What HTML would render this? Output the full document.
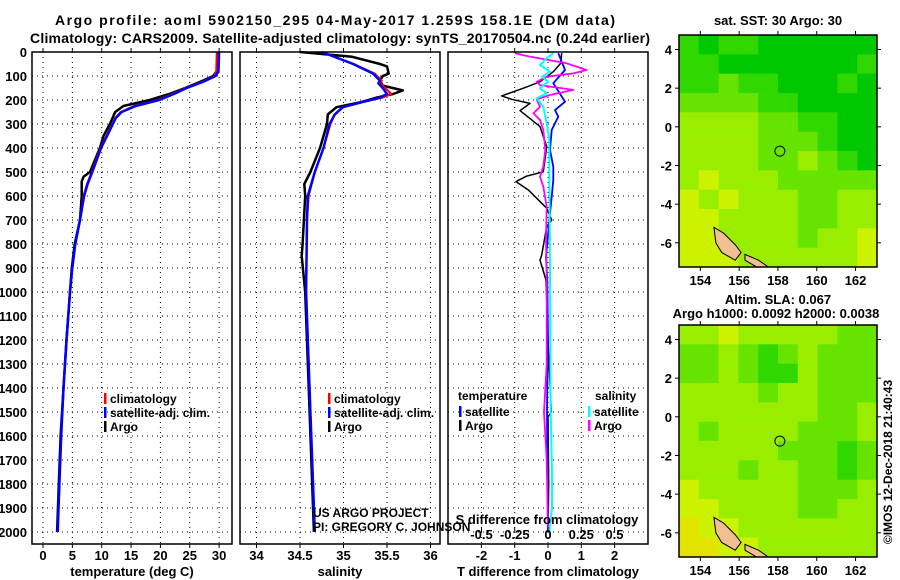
<!DOCTYPE html>
<html><head><meta charset="utf-8"><style>
html,body{margin:0;padding:0;background:#fff}
svg{display:block;font-family:"Liberation Sans",sans-serif}
.b{font-weight:bold;font-size:13px}
.t{font-weight:bold;font-size:14px}
</style></head><body>
<svg id="c" width="900" height="580" viewBox="0 0 900 580">
<text class="t" x="335" y="25" text-anchor="middle" textLength="560">Argo profile: aoml 5902150_295 04-May-2017 1.259S 158.1E (DM data)</text>
<text class="t" x="340" y="43" text-anchor="middle" textLength="620">Climatology: CARS2009. Satellite-adjusted climatology: synTS_20170504.nc (0.24d earlier)</text>
<g id="g"></g>
</svg>
<script>
// ---- data ----
const depthTicks=[0,100,200,300,400,500,600,700,800,900,1000,1100,1200,1300,1400,1500,1600,1700,1800,1900,2000];
const tTicks=[0,5,10,15,20,25,30];
const sTicks=[34,34.5,35,35.5,36];
const sTickLabels=['34','34.5','35','35.5','36'];
const dTTicks=[-2,-1,0,1,2];
const dSTicks=[-0.5,-0.25,0,0.25,0.5];
const dSTickLabels=['-0.5','-0.25','0','0.25','0.5'];

const argoTDepth=[0,80,100,125,150,175,200,225,250,300,350,400,500,520,540,600,700,800,900,1000,1200,1400,1600,1800,2000];
const argoT=[29.8,29.6,29.0,26.7,24.2,21.5,18.2,13.7,12.3,11.4,10.3,9.7,8.0,6.9,6.6,6.6,6.3,5.4,4.9,4.6,4.0,3.5,3.0,2.7,2.4];
const climTDepth=[0,80,100,125,150,175,200,225,250,275,300,350,400,500,550,600,700,800,900,1000,1200,1400,1600,1800,2000];
const climT=[29.6,29.5,29.2,27.0,24.3,22.0,19.5,15.5,13.2,12.3,11.8,10.8,9.8,8.3,7.5,6.9,6.3,5.5,5.0,4.6,4.0,3.5,3.1,2.8,2.5];
const satT=[30.0,29.9,29.4,27.2,24.5,22.3,19.8,15.8,13.4,12.4,11.9,10.9,9.9,8.4,7.6,7.0,6.3,5.5,5.0,4.6,4.0,3.5,3.1,2.8,2.5];

const argoSDepth=[0,20,50,60,90,100,120,140,160,175,190,210,230,260,300,400,500,550,600,800,850,1000,1500,2000];
const argoS=[34.5,35.1,35.42,35.5,35.52,35.45,35.42,35.45,35.68,35.57,35.38,35.19,34.92,34.82,34.81,34.73,34.62,34.55,34.56,34.53,34.52,34.56,34.61,34.66];
const climSDepth=[0,50,90,120,130,150,175,190,210,230,260,300,400,500,600,700,1000,1500,2000];
const climS=[34.76,35.12,35.36,35.44,35.42,35.48,35.55,35.45,35.21,35.0,34.9,34.85,34.77,34.67,34.6,34.58,34.57,34.62,34.67];
const satS=[34.75,35.11,35.34,35.42,35.40,35.45,35.50,35.42,35.20,34.99,34.90,34.84,34.77,34.67,34.59,34.58,34.57,34.62,34.67];

const argoDTDepth=[5,47,82,124,151,183,197,214,244,283,311,394,499,517,540,575,651,700,728,846,867,950,1200,1500,1520,1800,2000];
const argoDT=[0.41,0.38,0.16,-0.24,-0.74,-1.39,-1.09,-0.54,-0.84,-0.49,-0.24,-0.04,-0.14,-0.64,-0.96,-0.59,-0.04,0.11,-0.04,-0.19,-0.24,-0.06,0.0,0.1,0.0,0.02,0.0];
const satDTDepth=[5,75,130,207,242,269,325,408,478,533,603,672,853,950,1200,1500,2000];
const satDT=[0.31,0.51,0.16,0.51,0.21,0.31,0.11,0.06,0.16,0.16,0.11,0.06,-0.06,-0.02,0.0,-0.03,0.0];
const argoDSDepth=[5,19,47,75,89,103,124,138,158,179,197,228,256,283,325,408,478,519,561,644,783,922,1300,1500,1700,2000];
const argoDS=[-0.25,-0.135,0.14,0.29,0.19,-0.01,-0.085,-0.06,0.19,0.015,-0.085,-0.06,-0.11,-0.06,-0.035,-0.02,-0.035,-0.06,-0.035,-0.01,-0.015,-0.01,-0.01,-0.03,-0.01,0.0];
const satDSDepth=[5,26,54,82,103,124,151,172,193,228,297,367,505,900,1500,1750,1900,2000];
const satDS=[0.04,-0.01,-0.06,0.015,-0.045,0.0,-0.06,-0.01,-0.085,-0.035,-0.01,0.01,0.01,0.015,0.02,0.03,0.03,0.01];

const mapLonTicks=[154,156,158,160,162];
const mapLatTicks=[4,2,0,-2,-4,-6];
const sstGrid=["1011000000","1100000001","1121100010","2222110000","3333221100","3333222100","3333223210","3433322222","4343332233","4433332233","4433332334","4443333334"];
const slaGrid=["3343333322","2232123222","2232113222","3333233222","3333333223","3233332223","3333322212","3332332212","4333332223","4433332233","5443333333","5544333333"];
const palette=["#00c800","#30d800","#66e400","#99ee00","#ccf200","#e2e400"];
const argoLon=158.1, argoLat=-1.26;

// ---- helpers ----
const NS="http://www.w3.org/2000/svg";
const G=document.getElementById('g');
function mk(tag,attrs,parent){const e=document.createElementNS(NS,tag);for(const k in attrs)e.setAttribute(k,attrs[k]);(parent||G).appendChild(e);return e;}
const yD=d=>52+d*0.24;
const xT=t=>43+t*5.87;
const xS=s=>300+(s-34.5)*87;
const xDT=d=>548+d*33.3;
const xDS=s=>548+s*133;
const TOP=52,BOT=544;

function panel(x0,x1,name){
  const g=mk('g',{});
  
  
  depthTicks.forEach(d=>{const l=mk('line',{x1:x0,x2:x1,y1:yD(d),y2:yD(d),stroke:'#000','stroke-dasharray':'1,4'},g);
    
    });
  return g;
}
function vgrid(g,xs){xs.forEach(x=>{const l=mk('line',{x1:x,x2:x,y1:TOP,y2:BOT,stroke:'#000','stroke-dasharray':'1,4'},g);
  
  
  mk('line',{x1:x,x2:x,y1:TOP,y2:TOP-4,stroke:'#000'},g);mk('line',{x1:x,x2:x,y1:BOT,y2:BOT+4,stroke:'#000'},g);});}
function frame(g,x0,x1){const r=mk('rect',{x:x0,y:TOP,width:x1-x0,height:BOT-TOP,fill:'none',stroke:'#000','stroke-width':1.5},g);
  
  }
function line(g,xs,ys,fx,col,w,name){const p=xs.map((v,i)=>fx(v).toFixed(1)+','+yD(ys[i]).toFixed(1)).join(' ');
  const e=mk('polyline',{points:p,fill:'none',stroke:col,'stroke-width':w,'stroke-linejoin':'round'},g);
  
  }
function txt(g,x,y,s,cls,anchor,name,extra){const e=mk('text',Object.assign({x:x,y:y,'class':cls||'b','text-anchor':anchor||'middle'},extra||{}),g);e.textContent=s;
  
  return e;}
function legend(g,x,y,items){items.forEach((it,i)=>{mk('rect',{x:x,y:y+i*14-10,width:2.5,height:11,fill:it[1]},g);
  txt(g,x+6,y+i*14,it[0],'b','start','legend-entry',{style:'font-size:12px'});});}

// ---- temperature panel ----
const p1=panel(32,232,'temperature-panel');
vgrid(p1,tTicks.map(xT));
depthTicks.forEach(d=>{txt(p1,27,yD(d)+5,String(d),'b','end','y-tick-label');});
tTicks.forEach(t=>txt(p1,xT(t),560,String(t),'b','middle','x-tick-label'));
txt(p1,132,576,'temperature (deg C)','b','middle','x-axis-title');
line(p1,argoT,argoTDepth,xT,'#000',2.5,'argo-temperature');
line(p1,climT,climTDepth,xT,'#f00',2,'climatology-temperature');
line(p1,satT,climTDepth,xT,'#00f',2.5,'satellite-temperature');
legend(p1,104,403,[['climatology','#f00'],['satellite-adj. clim.','#00f'],['Argo','#000']]);
frame(p1,32,232);

// ---- salinity panel ----
const p2=panel(240,440,'salinity-panel');
vgrid(p2,sTicks.map(xS));
sTicks.forEach((s,i)=>txt(p2,xS(s),560,sTickLabels[i],'b','middle','x-tick-label'));
txt(p2,340,576,'salinity','b','middle','x-axis-title');
line(p2,argoS,argoSDepth,xS,'#000',2.5,'argo-salinity');
line(p2,climS,climSDepth,xS,'#f00',2,'climatology-salinity');
line(p2,satS,climSDepth,xS,'#00f',2.5,'satellite-salinity');
legend(p2,328,403,[['climatology','#f00'],['satellite-adj. clim.','#00f'],['Argo','#000']]);
frame(p2,240,440);

// ---- difference panel ----
const p3=panel(448,648,'difference-panel');
vgrid(p3,dTTicks.map(xDT));
dTTicks.forEach(d=>txt(p3,xDT(d),560,String(d),'b','middle','x-tick-label'));
txt(p3,548,576,'T difference from climatology','b','middle','x-axis-title');
line(p3,argoDT,argoDTDepth,xDT,'#000',1.5,'argo-temperature-difference');
line(p3,satDT,satDTDepth,xDT,'#00f',1.8,'satellite-temperature-difference');
line(p3,argoDS,argoDSDepth,xDS,'#f0f',1.8,'argo-salinity-difference');
line(p3,satDS,satDSDepth,xDS,'#0ff',2,'satellite-salinity-difference');
dSTicks.forEach((s,i)=>{mk('line',{x1:xDS(s),x2:xDS(s),y1:532,y2:527,stroke:'#000'},p3);
  txt(p3,xDS(s),539,dSTickLabels[i],'b','middle','s-tick-label');});
txt(p3,547,524,'S difference from climatology','b','middle','s-axis-title');
txt(p3,458,400,'temperature','b','start','legend-title',{style:'font-size:12px'});
txt(p3,595,400,'salinity','b','start','legend-title',{style:'font-size:12px'});
legend(p3,459,416,[['satellite','#00f'],['Argo','#000']]);
legend(p3,588,416,[['satellite','#0ff'],['Argo','#f0f']]);
frame(p3,448,648);

const cr=mk('g',{});


txt(cr,313,517,'US ARGO PROJECT','','start','credit-line',{style:'font-size:12px'});
txt(cr,313,531,'PI: GREGORY C. JOHNSON','','start','credit-line',{style:'font-size:12px'});

// ---- maps ----
function map(y0,grid,name){
  const X0=679,X1=877,Y1=y0+232;
  const lx=l=>X0+(l-152.9)*19.4;
  const ly=l=>y0+(4.75-l)*19.33;
  const g=mk('g',{});
  
  
  const cw=(X1-X0)/10,ch=(Y1-y0)/12;
  grid.forEach((row,r)=>{for(let c=0;c<row.length;c++){const e=mk('rect',{x:X0+c*cw,y:y0+r*ch,width:cw+0.5,height:ch+0.5,fill:palette[+row[c]]},g);
    
    }});
  const isl=mk('polygon',{points:[[154.7,-5.2],[155.2,-5.5],[155.8,-6.1],[156.1,-6.5],[155.8,-6.9],[155.1,-6.5],[154.8,-6.0]].map(p=>lx(p[0])+','+ly(p[1])).join(' '),fill:'#f0c090',stroke:'#000','stroke-width':1},g);
  
  
  const isl2=mk('polygon',{points:[[156.3,-6.6],[157.0,-6.9],[157.5,-7.25],[156.9,-7.25],[156.3,-6.9]].map(p=>lx(p[0])+','+ly(p[1])).join(' '),fill:'#f0c090',stroke:'#000','stroke-width':1},g);
  
  
  const ci=mk('circle',{cx:lx(argoLon),cy:ly(argoLat),r:5,fill:'none',stroke:'#000','stroke-width':1},g);
  
  
  const f=mk('rect',{x:X0,y:y0,width:X1-X0,height:Y1-y0,fill:'none',stroke:'#000','stroke-width':1.5},g);
  
  
  mapLonTicks.forEach(l=>{mk('line',{x1:lx(l),x2:lx(l),y1:y0,y2:y0-4,stroke:'#000'},g);mk('line',{x1:lx(l),x2:lx(l),y1:Y1,y2:Y1+4,stroke:'#000'},g);
    txt(g,lx(l),Y1+18,String(l),'b','middle','map-lon-label');});
  mapLatTicks.forEach(l=>{mk('line',{x1:X0,x2:X0-4,y1:ly(l),y2:ly(l),stroke:'#000'},g);mk('line',{x1:X1,x2:X1+4,y1:ly(l),y2:ly(l),stroke:'#000'},g);
    txt(g,672,ly(l)+5,String(l),'b','end','map-lat-label');});
  return g;
}
const m1=map(35,sstGrid,'sst-map');
txt(m1,778,25,'sat. SST: 30 Argo: 30','b','middle','map-title');
const m2=map(325,slaGrid,'sla-map');
txt(m2,778,304,'Altim. SLA: 0.067','b','middle','map-title');
txt(m2,776,318,'Argo h1000: 0.0092 h2000: 0.0038','b','middle','map-title');
txt(G,892,462,'©IMOS 12-Dec-2018 21:40:43','','middle','imos-timestamp',{transform:'rotate(-90 892 462)',style:'font-size:12px'});
</script>
</body></html>
